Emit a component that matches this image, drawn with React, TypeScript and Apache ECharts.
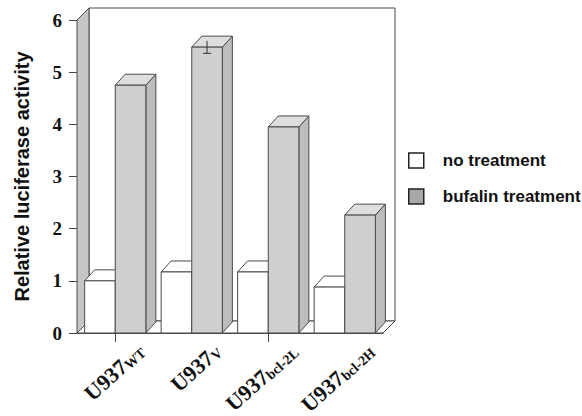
import React, { useEffect, useRef } from "react";
import * as echarts from "echarts";

const labelMain = "U937";
const labelSubs = ["WT", "V", "bcl-2L", "bcl-2H"];
const categories = labelSubs.map((s) => labelMain + s);
const noTreatment = [1.0, 1.17, 1.17, 0.88];
const bufalin = [4.75, 5.48, 3.95, 2.26];
const bufalinErr = [0, 0.12, 0, 0];
const seriesNames = ["no treatment", "bufalin treatment"];
const yMin = 0;
const yMax = 6;
const yInterval = 1;

const STROKE = "#4a4a4a";
const DX = 10;
const DY = -11;

function barRender(kind: "white" | "gray", errs?: number[]) {
  return (params: any, api: any) => {
    const i = api.value(0);
    const v = api.value(1);
    const base = api.coord([i, 0]);
    const top = api.coord([i, v]);
    const band = api.size([1, 0])[0];
    const w = band * 0.4;
    const x0 = kind === "white" ? base[0] - w : base[0];
    const x1 = x0 + w;
    const yt = top[1];
    const yb = base[1];
    const front = kind === "white" ? "#ffffff" : "#cfcfcf";
    const side = kind === "white" ? "#ffffff" : "#bdbdbd";
    const topF = kind === "white" ? "#ffffff" : "#dedede";
    const children: any[] = [
      {
        type: "polygon",
        shape: { points: [[x1, yt], [x1 + DX, yt + DY], [x1 + DX, yb + DY], [x1, yb]] },
        style: { fill: side, stroke: STROKE, lineWidth: 1 },
      },
      {
        type: "polygon",
        shape: { points: [[x0, yt], [x1, yt], [x1 + DX, yt + DY], [x0 + DX, yt + DY]] },
        style: { fill: topF, stroke: STROKE, lineWidth: 1 },
      },
      {
        type: "rect",
        shape: { x: x0, y: yt, width: w, height: yb - yt },
        style: { fill: front, stroke: STROKE, lineWidth: 1 },
      },
    ];
    if (errs && errs[i]) {
      const e = errs[i];
      const hi = api.coord([i, v + e]);
      const lo = api.coord([i, v - e]);
      const cx = (x0 + x1) / 2;
      children.push(
        { type: "line", shape: { x1: cx, y1: hi[1], x2: cx, y2: lo[1] }, style: { stroke: "#333", lineWidth: 1 } },
        { type: "line", shape: { x1: cx - 4, y1: lo[1], x2: cx + 4, y2: lo[1] }, style: { stroke: "#333", lineWidth: 1 } }
      );
    }
    return { type: "group", children };
  };
}

function frameRender(params: any, api: any) {
  const cs = params.coordSys;
  const gx = cs.x;
  const gy = cs.y;
  const gw = cs.width;
  const gh = cs.height;
  const d = 12;
  return {
    type: "group",
    children: [
      {
        type: "rect",
        shape: { x: gx + d, y: gy - d, width: gw, height: gh },
        style: { fill: "#ffffff", stroke: STROKE, lineWidth: 1 },
      },
      {
        type: "polygon",
        shape: { points: [[gx, gy + gh], [gx + d, gy + gh - d], [gx + gw + d, gy + gh - d], [gx + gw, gy + gh]] },
        style: { fill: "#ffffff", stroke: STROKE, lineWidth: 1 },
      },
      {
        type: "polygon",
        shape: { points: [[gx, gy], [gx + d, gy - d], [gx + d, gy + gh - d], [gx, gy + gh]] },
        style: { fill: "#c6c6c6", stroke: STROKE, lineWidth: 1 },
      },
    ],
  };
}

function labelRender(params: any, api: any) {
  const i = api.value(0);
  const p = api.coord([i, 0]);
  return {
    type: "text",
    x: p[0] + 26,
    y: p[1] + 15,
    rotation: (42 * Math.PI) / 180,
    style: {
      text: `{m|${labelMain}}{s|${labelSubs[i]}}`,
      align: "right",
      verticalAlign: "middle",
      fill: "#111",
      rich: {
        m: { fontFamily: "Liberation Serif", fontWeight: "bold", fontSize: 22, fill: "#111", verticalAlign: "bottom" },
        s: { fontFamily: "Liberation Serif", fontWeight: "bold", fontSize: 14, fill: "#111", verticalAlign: "bottom" },
      },
    },
  };
}

export default function App() {
  const ref = useRef<HTMLDivElement>(null);
  useEffect(() => {
    if (!ref.current) return;
    const chart = echarts.init(ref.current, undefined, { renderer: "svg" });
    chart.setOption({
      animation: false,
      backgroundColor: "#ffffff",
      grid: { left: 77, top: 20, width: 306, height: 313 },
      legend: {
        orient: "vertical",
        left: 408,
        top: 152,
        padding: 0,
        itemWidth: 15,
        itemHeight: 15,
        itemGap: 19,
        icon: "rect",
        selectedMode: false,
        textStyle: {
          fontFamily: "Liberation Sans",
          fontWeight: "bold",
          fontSize: 17,
          color: "#111",
          padding: [0, 0, 0, 14],
        },
        data: [
          { name: seriesNames[0], itemStyle: { color: "#ffffff", borderColor: "#222", borderWidth: 1.5 } },
          { name: seriesNames[1], itemStyle: { color: "#a8a8a8", borderColor: "#222", borderWidth: 1.5 } },
        ],
      },
      xAxis: {
        type: "category",
        data: categories,
        boundaryGap: true,
        axisLine: { show: true, lineStyle: { color: "#444", width: 1 } },
        axisTick: { show: true, alignWithLabel: true, length: 9, lineStyle: { color: "#444" } },
        axisLabel: { show: false },
        splitLine: { show: false },
      },
      yAxis: {
        type: "value",
        min: yMin,
        max: yMax,
        interval: yInterval,
        name: "Relative luciferase activity",
        nameLocation: "middle",
        nameGap: 45,
        nameRotate: 90,
        nameTextStyle: { fontFamily: "Liberation Sans", fontWeight: "bold", fontSize: 20, color: "#111" },
        axisLine: { show: true, lineStyle: { color: "#444", width: 1 } },
        axisTick: { show: true, length: 8, lineStyle: { color: "#444" } },
        axisLabel: { fontFamily: "Liberation Serif", fontWeight: "bold", fontSize: 19, color: "#111", margin: 15 },
        splitLine: { show: false },
      },
      series: [
        {
          type: "custom",
          name: "frame",
          z: 1,
          renderItem: frameRender,
          data: [[0, 0]],
          silent: true,
        },
        {
          type: "custom",
          name: seriesNames[0],
          z: 2,
          renderItem: barRender("white"),
          itemStyle: { color: "#ffffff" },
          data: noTreatment.map((v, i) => [i, v]),
        },
        {
          type: "custom",
          name: seriesNames[1],
          z: 3,
          renderItem: barRender("gray", bufalinErr),
          itemStyle: { color: "#a8a8a8" },
          data: bufalin.map((v, i) => [i, v]),
        },
        {
          type: "custom",
          name: "labels",
          z: 4,
          renderItem: labelRender,
          data: categories.map((c, i) => [i, 0]),
          silent: true,
        },
      ],
    });
    return () => chart.dispose();
  }, []);
  return <div ref={ref} style={{ position: "fixed", left: 0, top: 0, width: 582, height: 416 }} />;
}
